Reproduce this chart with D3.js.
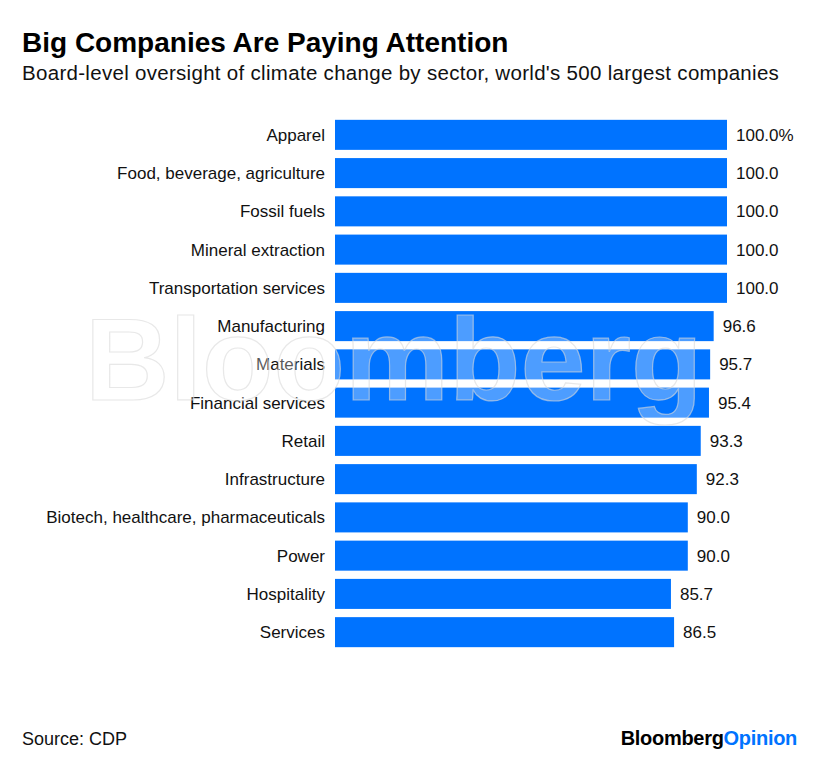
<!DOCTYPE html>
<html>
<head>
<meta charset="utf-8">
<script src="https://cdn.jsdelivr.net/npm/d3@7"></script>
<style>
  body { margin: 0; background: #fff; }
  svg { display: block; font-family: "Liberation Sans", Arial, sans-serif; }
</style>
</head>
<body>
<svg id="chart" width="814" height="758"></svg>
<script>
var sectors = ["Apparel", "Food, beverage, agriculture", "Fossil fuels", "Mineral extraction",
  "Transportation services", "Manufacturing", "Materials", "Financial services", "Retail",
  "Infrastructure", "Biotech, healthcare, pharmaceuticals", "Power", "Hospitality", "Services"];
var shares = [100.0, 100.0, 100.0, 100.0, 100.0, 96.6, 95.7, 95.4, 93.3, 92.3, 90.0, 90.0, 85.7, 86.5];

var svg = d3.select("#chart");

svg.append("text").attr("x", 22).attr("y", 52)
  .attr("font-size", 28).attr("font-weight", 700).attr("fill", "#000")
  .text("Big Companies Are Paying Attention");
svg.append("text").attr("x", 22).attr("y", 80)
  .attr("font-size", 20.5).attr("fill", "#111")
  .attr("letter-spacing", 0.3)
  .text("Board-level oversight of climate change by sector, world's 500 largest companies");

var x = d3.scaleLinear().domain([0, 100]).range([335, 727]);
var y = d3.scaleBand().domain(sectors).range([116, 651]).paddingInner(0.215).paddingOuter(0.1);

var g = svg.append("g");

g.selectAll("rect").data(sectors).enter()
  .append("rect")
  .attr("x", x(0))
  .attr("y", function(d) { return y(d); })
  .attr("width", function(d, i) { return x(shares[i]) - x(0); })
  .attr("height", y.bandwidth())
  .attr("fill", "#0073ff");

g.selectAll("text.cat").data(sectors).enter()
  .append("text")
  .attr("class", "cat")
  .attr("x", 325)
  .attr("y", function(d) { return y(d) + y.bandwidth() / 2; })
  .attr("dy", "0.35em")
  .attr("text-anchor", "end")
  .attr("font-size", 17)
  .attr("fill", "#111")
  .text(function(d) { return d; });

g.selectAll("text.val").data(shares).enter()
  .append("text")
  .attr("class", "val")
  .attr("x", function(d) { return x(d) + 9; })
  .attr("y", function(d, i) { return y(sectors[i]) + y.bandwidth() / 2; })
  .attr("dy", "0.35em")
  .attr("font-size", 17)
  .attr("fill", "#111")
  .text(function(d, i) { return d.toFixed(1) + (i === 0 ? "%" : ""); });

// watermark
svg.append("text")
  .attr("x", 85).attr("y", 400)
  .attr("font-size", 117).attr("font-weight", 700)
  .attr("fill", "#fff").attr("fill-opacity", 0.3)
  .attr("stroke", "#d8d8d8").attr("stroke-opacity", 0.6).attr("stroke-width", 1.2)
  .text("Bloomberg");

svg.append("text").attr("x", 22).attr("y", 745)
  .attr("font-size", 18).attr("fill", "#111")
  .text("Source: CDP");

var brand = svg.append("text").attr("x", 797).attr("y", 745)
  .attr("text-anchor", "end").attr("font-size", 20).attr("font-weight", 700)
  .attr("letter-spacing", -0.3);
brand.append("tspan").attr("fill", "#000").text("Bloomberg");
brand.append("tspan").attr("fill", "#0073ff").text("Opinion");
</script>
</body>
</html>
